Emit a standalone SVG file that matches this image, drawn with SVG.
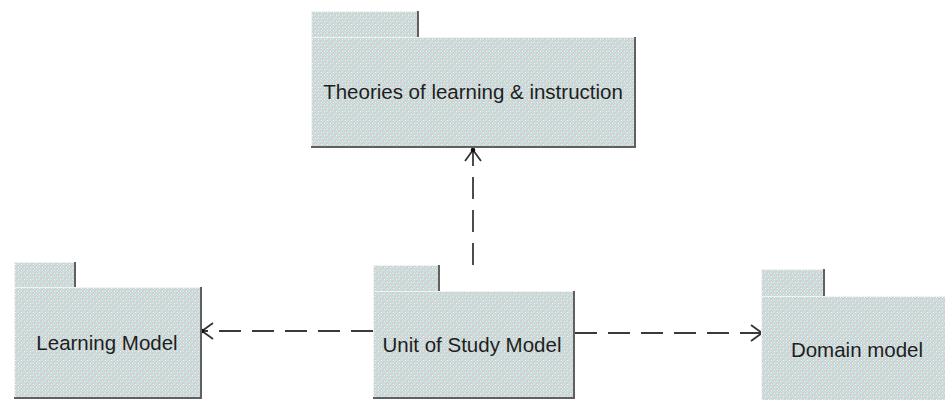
<svg xmlns="http://www.w3.org/2000/svg" width="945" height="400" viewBox="0 0 945 400">
<defs>
<pattern id="dither" patternUnits="userSpaceOnUse" width="6" height="6">
<rect width="6" height="6" fill="#d0d1d1"/>
<path d="M0,0 L6,6 M6,0 L0,6" stroke="#c8e6e6" stroke-width="1"/>
<rect x="0" y="3" width="1" height="1" fill="#f6f6f6"/>
<rect x="3" y="0" width="1" height="1" fill="#f6f6f6"/>
</pattern>
<marker id="open" markerUnits="userSpaceOnUse" markerWidth="30" markerHeight="30" viewBox="-15 -15 30 30" refX="0" refY="0" orient="auto">
<path d="M-11,-8 L0,0 L-11,8" fill="none" stroke="#333" stroke-width="1.8" stroke-dasharray="none"/>
</marker>
<marker id="opendot" markerUnits="userSpaceOnUse" markerWidth="30" markerHeight="30" viewBox="-15 -15 30 30" refX="0" refY="0" orient="auto">
<path d="M-11,-8 L0,0 L-11,8" fill="none" stroke="#333" stroke-width="1.8" stroke-dasharray="none"/>
<circle cx="0" cy="0" r="2.3" fill="#111"/>
</marker>
</defs>
<style>
.fill{fill:url(#dither);}
.hl{fill:none;stroke:#f2f2f2;stroke-width:1;}
.sh{fill:none;stroke:#606060;stroke-width:2;}
.lbl{font-family:"Liberation Sans",Arial,sans-serif;font-size:20.5px;fill:#1e1e1e;text-anchor:middle;}
.dep{fill:none;stroke:#3a3a3a;stroke-width:1.8;stroke-dasharray:22 11;}
</style>
<rect width="945" height="400" fill="#ffffff"/>

<g id="connectors">
<path class="dep" d="M473,265 L473,150" marker-end="url(#opendot)"/>
<path class="dep" d="M373,331 L202,331" marker-end="url(#opendot)"/>
<path class="dep" d="M575,333 L762,333" marker-end="url(#open)"/>
</g>

<g id="theories">
<rect class="fill" x="311" y="11" width="108" height="26"/>
<path class="hl" d="M311.5,37 L311.5,11.5 L418,11.5"/>
<path class="sh" d="M418,11 L418,37"/>
<rect class="fill" x="311" y="37" width="325" height="110"/>
<path class="hl" d="M311.5,147 L311.5,37.5 L635,37.5"/>
<path class="sh" d="M635,37 L635,147 L311,147"/>
<text class="lbl" x="473" y="99">Theories of learning &amp; instruction</text>
</g>

<g id="learning">
<rect class="fill" x="14" y="262" width="62" height="25"/>
<path class="hl" d="M14.5,287 L14.5,262.5 L75,262.5"/>
<path class="sh" d="M75,262 L75,287"/>
<rect class="fill" x="14" y="287" width="188" height="111"/>
<path class="hl" d="M14.5,398 L14.5,287.5 L201,287.5"/>
<path class="sh" d="M201,287 L201,398 L14,398"/>
<text class="lbl" x="107" y="350">Learning Model</text>
</g>

<g id="unit">
<rect class="fill" x="373" y="265" width="67" height="26"/>
<path class="hl" d="M373.5,291 L373.5,265.5 L439,265.5"/>
<path class="sh" d="M439,265 L439,291"/>
<rect class="fill" x="373" y="291" width="202" height="107"/>
<path class="hl" d="M373.5,398 L373.5,291.5 L574,291.5"/>
<path class="sh" d="M574,291 L574,398 L373,398"/>
<text class="lbl" x="472" y="352">Unit of Study Model</text>
</g>

<g id="domain">
<rect class="fill" x="761" y="269" width="64" height="27"/>
<path class="hl" d="M761.5,296 L761.5,269.5 L824,269.5"/>
<path class="sh" d="M824,269 L824,296"/>
<rect class="fill" x="761" y="296" width="200" height="110"/>
<path class="hl" d="M761.5,406 L761.5,296.5 L945,296.5"/>
<text class="lbl" x="857" y="357">Domain model</text>
</g>
</svg>
